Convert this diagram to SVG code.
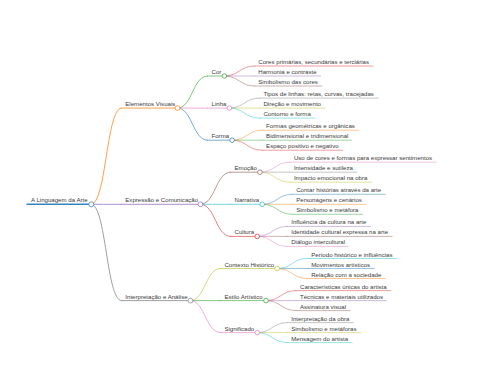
<svg xmlns="http://www.w3.org/2000/svg" width="480" height="384" viewBox="0 0 480 384">
<style>
text { font-family: "Liberation Sans", Arial, sans-serif; font-size: 6.1px; fill: #3a3a3a; }
path, line { fill: none; stroke-linecap: round; stroke-opacity: 0.75; }
circle { fill: #fff; stroke-width: 0.7; }
.w0 { stroke-width: 1.5; stroke-opacity: 0.9; } .w1 { stroke-width: 1; } .w2 { stroke-width: 0.8; } .w3 { stroke-width: 0.6; }
.c0 { stroke: #1f77b4; } .c1 { stroke: #ff7f0e; } .c2 { stroke: #2ca02c; } .c3 { stroke: #d62728; } .c4 { stroke: #9467bd; }
.c5 { stroke: #8c564b; } .c6 { stroke: #e377c2; } .c7 { stroke: #7f7f7f; } .c8 { stroke: #bcbd22; } .c9 { stroke: #17becf; }
</style>
<rect width="480" height="384" fill="#fff"/>
<g id="connectors">
<path class="c1 w1" d="M91.3,204.3 C106.3,204.3 106.3,108.1 121.3,108.1"/>
<path class="c4 w1" d="M91.3,204.3 C106.3,204.3 106.3,204.3 121.3,204.3"/>
<path class="c7 w1" d="M91.3,204.3 C106.3,204.3 106.3,300.6 121.3,300.6"/>
<path class="c2 w2" d="M177.5,108.1 C192.5,108.1 192.5,76 207.5,76"/>
<path class="c6 w2" d="M177.5,108.1 C192.5,108.1 192.5,108.1 207.5,108.1"/>
<path class="c0 w2" d="M177.5,108.1 C192.5,108.1 192.5,140.2 207.5,140.2"/>
<path class="c5 w2" d="M200.5,204.3 C215.5,204.3 215.5,172.2 230.5,172.2"/>
<path class="c9 w2" d="M200.5,204.3 C215.5,204.3 215.5,204.3 230.5,204.3"/>
<path class="c3 w2" d="M200.5,204.3 C215.5,204.3 215.5,236.4 230.5,236.4"/>
<path class="c8 w2" d="M190.4,300.6 C205.4,300.6 205.4,268.5 220.4,268.5"/>
<path class="c2 w2" d="M190.4,300.6 C205.4,300.6 205.4,300.6 220.4,300.6"/>
<path class="c6 w2" d="M190.4,300.6 C205.4,300.6 205.4,332.6 220.4,332.6"/>
<path class="c3 w3" d="M224.3,76 C239.3,76 239.3,66 254.3,66"/>
<path class="c4 w3" d="M224.3,76 C239.3,76 239.3,76 254.3,76"/>
<path class="c5 w3" d="M224.3,76 C239.3,76 239.3,86 254.3,86"/>
<path class="c7 w3" d="M229.4,108.1 C244.4,108.1 244.4,98.1 259.4,98.1"/>
<path class="c8 w3" d="M229.4,108.1 C244.4,108.1 244.4,108.1 259.4,108.1"/>
<path class="c9 w3" d="M229.4,108.1 C244.4,108.1 244.4,118.1 259.4,118.1"/>
<path class="c1 w3" d="M232.1,140.2 C247.1,140.2 247.1,130.2 262.1,130.2"/>
<path class="c2 w3" d="M232.1,140.2 C247.1,140.2 247.1,140.2 262.1,140.2"/>
<path class="c3 w3" d="M232.1,140.2 C247.1,140.2 247.1,150.2 262.1,150.2"/>
<path class="c6 w3" d="M259.9,172.2 C274.9,172.2 274.9,162.2 289.9,162.2"/>
<path class="c7 w3" d="M259.9,172.2 C274.9,172.2 274.9,172.2 289.9,172.2"/>
<path class="c8 w3" d="M259.9,172.2 C274.9,172.2 274.9,182.2 289.9,182.2"/>
<path class="c0 w3" d="M262.2,204.3 C277.2,204.3 277.2,194.3 292.2,194.3"/>
<path class="c1 w3" d="M262.2,204.3 C277.2,204.3 277.2,204.3 292.2,204.3"/>
<path class="c2 w3" d="M262.2,204.3 C277.2,204.3 277.2,214.3 292.2,214.3"/>
<path class="c4 w3" d="M257.2,236.4 C272.2,236.4 272.2,226.4 287.2,226.4"/>
<path class="c5 w3" d="M257.2,236.4 C272.2,236.4 272.2,236.4 287.2,236.4"/>
<path class="c6 w3" d="M257.2,236.4 C272.2,236.4 272.2,246.4 287.2,246.4"/>
<path class="c9 w3" d="M277.2,268.5 C292.2,268.5 292.2,258.5 307.2,258.5"/>
<path class="c0 w3" d="M277.2,268.5 C292.2,268.5 292.2,268.5 307.2,268.5"/>
<path class="c1 w3" d="M277.2,268.5 C292.2,268.5 292.2,278.5 307.2,278.5"/>
<path class="c3 w3" d="M266,300.6 C281,300.6 281,290.6 296,290.6"/>
<path class="c4 w3" d="M266,300.6 C281,300.6 281,300.6 296,300.6"/>
<path class="c5 w3" d="M266,300.6 C281,300.6 281,310.6 296,310.6"/>
<path class="c7 w3" d="M257.2,332.6 C272.2,332.6 272.2,322.6 287.2,322.6"/>
<path class="c8 w3" d="M257.2,332.6 C272.2,332.6 272.2,332.6 287.2,332.6"/>
<path class="c9 w3" d="M257.2,332.6 C272.2,332.6 272.2,342.6 287.2,342.6"/>
</g>
<g id="root"><line class="c0 w0" x1="27" y1="204.3" x2="91.3" y2="204.3"/><circle class="c0" cx="91.3" cy="204.3" r="2.5"/><text x="31" y="202.3">A Linguagem da Arte</text></g>
<g id="elementos-visuais"><line class="c1 w1" x1="121.3" y1="108.1" x2="177.5" y2="108.1"/><circle class="c1" cx="177.5" cy="108.1" r="2.4"/><text x="125.3" y="106.1">Elementos Visuais</text></g>
<g id="expressao-comunicacao"><line class="c4 w1" x1="121.3" y1="204.3" x2="200.5" y2="204.3"/><circle class="c4" cx="200.5" cy="204.3" r="2.4"/><text x="125.3" y="202.3">Expressão e Comunicação</text></g>
<g id="interpretacao-analise"><line class="c7 w1" x1="121.3" y1="300.6" x2="190.4" y2="300.6"/><circle class="c7" cx="190.4" cy="300.6" r="2.4"/><text x="125.3" y="298.6">Interpretação e Análise</text></g>
<g id="cor"><line class="c2 w2" x1="207.5" y1="76" x2="224.3" y2="76"/><circle class="c2" cx="224.3" cy="76" r="2.3"/><text x="211.5" y="74">Cor</text></g>
<g id="linha"><line class="c6 w2" x1="207.5" y1="108.1" x2="229.4" y2="108.1"/><circle class="c6" cx="229.4" cy="108.1" r="2.3"/><text x="211.5" y="106.1">Linha</text></g>
<g id="forma"><line class="c0 w2" x1="207.5" y1="140.2" x2="232.1" y2="140.2"/><circle class="c0" cx="232.1" cy="140.2" r="2.3"/><text x="211.5" y="138.2">Forma</text></g>
<g id="emocao"><line class="c5 w2" x1="230.5" y1="172.2" x2="259.9" y2="172.2"/><circle class="c5" cx="259.9" cy="172.2" r="2.3"/><text x="234.5" y="170.2">Emoção</text></g>
<g id="narrativa"><line class="c9 w2" x1="230.5" y1="204.3" x2="262.2" y2="204.3"/><circle class="c9" cx="262.2" cy="204.3" r="2.3"/><text x="234.5" y="202.3">Narrativa</text></g>
<g id="cultura"><line class="c3 w2" x1="230.5" y1="236.4" x2="257.2" y2="236.4"/><circle class="c3" cx="257.2" cy="236.4" r="2.3"/><text x="234.5" y="234.4">Cultura</text></g>
<g id="contexto-historico"><line class="c8 w2" x1="220.4" y1="268.5" x2="277.2" y2="268.5"/><circle class="c8" cx="277.2" cy="268.5" r="2.3"/><text x="224.4" y="266.5">Contexto Histórico</text></g>
<g id="estilo-artistico"><line class="c2 w2" x1="220.4" y1="300.6" x2="266" y2="300.6"/><circle class="c2" cx="266" cy="300.6" r="2.3"/><text x="224.4" y="298.6">Estilo Artístico</text></g>
<g id="significado"><line class="c6 w2" x1="220.4" y1="332.6" x2="257.2" y2="332.6"/><circle class="c6" cx="257.2" cy="332.6" r="2.3"/><text x="224.4" y="330.6">Significado</text></g>
<g id="cores-primarias"><line class="c3 w3" x1="254.3" y1="66" x2="373.1" y2="66"/><text x="258.3" y="64">Cores primárias, secundárias e terciárias</text></g>
<g id="harmonia"><line class="c4 w3" x1="254.3" y1="76" x2="320.6" y2="76"/><text x="258.3" y="74">Harmonia e contraste</text></g>
<g id="simbolismo-cores"><line class="c5 w3" x1="254.3" y1="86" x2="322" y2="86"/><text x="258.3" y="84">Simbolismo das cores</text></g>
<g id="tipos-linhas"><line class="c7 w3" x1="259.4" y1="98.1" x2="378.3" y2="98.1"/><text x="263.4" y="96.1">Tipos de linhas: retas, curvas, tracejadas</text></g>
<g id="direcao"><line class="c8 w3" x1="259.4" y1="108.1" x2="325" y2="108.1"/><text x="263.4" y="106.1">Direção e movimento</text></g>
<g id="contorno"><line class="c9 w3" x1="259.4" y1="118.1" x2="314.9" y2="118.1"/><text x="263.4" y="116.1">Contorno e forma</text></g>
<g id="formas-geometricas"><line class="c1 w3" x1="262.1" y1="130.2" x2="358.9" y2="130.2"/><text x="266.1" y="128.2">Formas geométricas e orgânicas</text></g>
<g id="bidimensional"><line class="c2 w3" x1="262.1" y1="140.2" x2="351.4" y2="140.2"/><text x="266.1" y="138.2">Bidimensional e tridimensional</text></g>
<g id="espaco"><line class="c3 w3" x1="262.1" y1="150.2" x2="342.7" y2="150.2"/><text x="266.1" y="148.2">Espaço positivo e negativo</text></g>
<g id="uso-cores"><line class="c6 w3" x1="289.9" y1="162.2" x2="436.2" y2="162.2"/><text x="293.9" y="160.2">Uso de cores e formas para expressar sentimentos</text></g>
<g id="intensidade"><line class="c7 w3" x1="289.9" y1="172.2" x2="356.9" y2="172.2"/><text x="293.9" y="170.2">Intensidade e sutileza</text></g>
<g id="impacto"><line class="c8 w3" x1="289.9" y1="182.2" x2="371.5" y2="182.2"/><text x="293.9" y="180.2">Impacto emocional na obra</text></g>
<g id="contar-historias"><line class="c0 w3" x1="292.2" y1="194.3" x2="385.3" y2="194.3"/><text x="296.2" y="192.3">Contar histórias através da arte</text></g>
<g id="personagens"><line class="c1 w3" x1="292.2" y1="204.3" x2="366" y2="204.3"/><text x="296.2" y="202.3">Personagens e cenários</text></g>
<g id="simbolismo-metafora"><line class="c2 w3" x1="292.2" y1="214.3" x2="362.6" y2="214.3"/><text x="296.2" y="212.3">Simbolismo e metáfora</text></g>
<g id="influencia"><line class="c4 w3" x1="287.2" y1="226.4" x2="370.5" y2="226.4"/><text x="291.2" y="224.4">Influência da cultura na arte</text></g>
<g id="identidade"><line class="c5 w3" x1="287.2" y1="236.4" x2="392.2" y2="236.4"/><text x="291.2" y="234.4">Identidade cultural expressa na arte</text></g>
<g id="dialogo"><line class="c6 w3" x1="287.2" y1="246.4" x2="348.5" y2="246.4"/><text x="291.2" y="244.4">Diálogo intercultural</text></g>
<g id="periodo"><line class="c9 w3" x1="307.2" y1="258.5" x2="396.6" y2="258.5"/><text x="311.2" y="256.5">Período histórico e influências</text></g>
<g id="movimentos"><line class="c0 w3" x1="307.2" y1="268.5" x2="374.2" y2="268.5"/><text x="311.2" y="266.5">Movimentos artísticos</text></g>
<g id="relacao"><line class="c1 w3" x1="307.2" y1="278.5" x2="385.4" y2="278.5"/><text x="311.2" y="276.5">Relação com a sociedade</text></g>
<g id="caracteristicas"><line class="c3 w3" x1="296" y1="290.6" x2="390.8" y2="290.6"/><text x="300" y="288.6">Características únicas do artista</text></g>
<g id="tecnicas"><line class="c4 w3" x1="296" y1="300.6" x2="386.4" y2="300.6"/><text x="300" y="298.6">Técnicas e materiais utilizados</text></g>
<g id="assinatura"><line class="c5 w3" x1="296" y1="310.6" x2="350.1" y2="310.6"/><text x="300" y="308.6">Assinatura visual</text></g>
<g id="interpretacao-obra"><line class="c7 w3" x1="287.2" y1="322.6" x2="353.2" y2="322.6"/><text x="291.2" y="320.6">Interpretação da obra</text></g>
<g id="simbolismo-metaforas"><line class="c8 w3" x1="287.2" y1="332.6" x2="360.6" y2="332.6"/><text x="291.2" y="330.6">Simbolismo e metáforas</text></g>
<g id="mensagem"><line class="c9 w3" x1="287.2" y1="342.6" x2="352.2" y2="342.6"/><text x="291.2" y="340.6">Mensagem do artista</text></g>
</svg>
